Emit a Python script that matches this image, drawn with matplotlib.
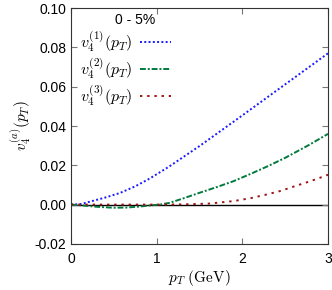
import matplotlib
matplotlib.use("Agg")
import matplotlib.pyplot as plt
import numpy as np

plt.rcParams.update({
    "font.family": ["Liberation Sans", "DejaVu Sans"],
    "mathtext.fontset": "cm",
    "font.size": 10,
})

pt1 = [0.0, 0.12, 0.22, 0.4, 0.57, 0.75, 0.92, 1.15, 1.5, 1.75, 2.0, 2.25, 2.5, 2.75, 3.0]
v1 = [0.0, 0.0003, 0.0015, 0.0036, 0.0059, 0.0093, 0.0133, 0.0195, 0.0298, 0.0376, 0.0454, 0.0533, 0.0612, 0.0691, 0.0770]

pt2 = [0.0, 0.15, 0.3, 0.49, 0.65, 0.8, 0.95, 1.04, 1.15, 1.3, 1.5, 1.7, 1.89, 2.1, 2.3, 2.5, 2.78, 3.0]
v2 = [0.0, -0.0005, -0.0011, -0.0016, -0.0015, -0.0010, -0.0003, 0.0, 0.0009, 0.0030, 0.0060, 0.0089, 0.0118, 0.0157, 0.0196, 0.0238, 0.0304, 0.0360]

pt3 = [0.0, 0.5, 1.0, 1.3, 1.61, 1.9, 2.1, 2.27, 2.45, 2.6, 2.8, 2.94, 3.0]
v3 = [0.0, 0.0, 0.0, 0.0001, 0.0005, 0.0018, 0.0033, 0.0050, 0.0070, 0.0092, 0.0120, 0.0142, 0.0152]

BLUE = "#1a1aff"
GREEN = "#007a3d"
RED = "#a01010"

fig = plt.figure(figsize=(3.32, 2.9), dpi=100)
ax = fig.add_axes([0.214, 0.159, 0.774, 0.813])

ax.axhline(0, color="black", lw=1.0, zorder=1)
ax.plot(pt1, v1, color=BLUE, lw=1.4, ls=(0, (1, 1.2)), label=r"$v_4^{(1)}(p_T)$")
ax.plot(pt2, v2, color=GREEN, lw=1.4, ls=(0, (3, 1, 1, 1)), label=r"$v_4^{(2)}(p_T)$")
ax.plot(pt3, v3, color=RED, lw=1.4, ls=(0, (1.2, 2.5)), label=r"$v_4^{(3)}(p_T)$")

ax.set_xlim(0, 3)
ax.set_ylim(-0.02, 0.10)
ax.set_xticks([0, 1, 2, 3])
ax.set_yticks([-0.02, 0.0, 0.02, 0.04, 0.06, 0.08, 0.10])
ax.set_yticklabels(["-0.02", "0.00", "0.02", "0.04", "0.06", "0.08", "0.10"])
ax.tick_params(direction="in", top=True, right=True, length=4, color="#777777",
               labelsize=10)
ax.tick_params(axis="x", pad=6)
for s in ax.spines.values():
    s.set_color("#333333")

ax.set_xlabel(r"$p_T\ \mathrm{(GeV)}$", fontsize=11, labelpad=1)
ax.set_ylabel(r"$v_4^{(a)}(p_T)$", fontsize=11, labelpad=1)

ax.text(0.25, 0.95, "0 - 5%", transform=ax.transAxes, ha="center", va="center",
        fontsize=10)
ax.legend(loc="upper left", bbox_to_anchor=(0.01, 0.94),
          frameon=False, markerfirst=False, fontsize=11.5, handlelength=1.9,
          handletextpad=0.5, labelspacing=0.15, borderaxespad=0.0)

fig.savefig("out.png", dpi=100)
